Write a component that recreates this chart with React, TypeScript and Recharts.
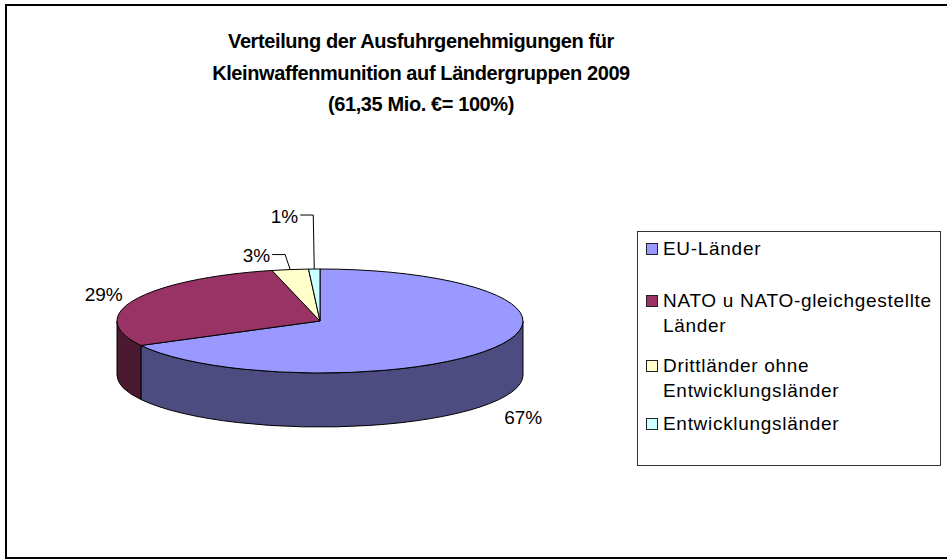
import React from "react";
import { Cell, Legend, Pie, PieChart } from "recharts";

// data (percent of 61,35 Mio. €)
const categories = [
  "EU-Länder",
  "NATO u NATO-gleichgestellte Länder",
  "Drittländer ohne Entwicklungsländer",
  "Entwicklungsländer",
];
const shares = [67.2, 29.0, 2.9, 0.9];
const titleLines = [
  "Verteilung der Ausfuhrgenehmigungen für",
  "Kleinwaffenmunition auf Ländergruppen 2009",
  "(61,35 Mio. €= 100%)",
];

const topColors = ["#9999FF", "#993366", "#FFFFCC", "#CCFFFF"];
const sideColors = ["#4C4C80", "#4C1933", "#808066", "#668080"];

const data = categories.map((name, i) => ({ name, value: shares[i] }));
const total = shares.reduce((a, b) => a + b, 0);

const W = 947;
const H = 559;
const CX = 320;
const CY = 321;
const RX = 203;
const RY = 52;
const DEPTH = 54;
const RAD = Math.PI / 180;
const FONT = '"Liberation Sans", Arial, Helvetica, sans-serif';
const legendGaps = [4, 27, 15, 8];
// leader lines of the thin slices: how far up, how far sideways
const smallLift = [15, 54];
const smallShift = [-5, -1];

function SliceLabel(props: any) {
  const { cx, cy, outerRadius, startAngle, endAngle, midAngle, percent, index } = props;
  const rx = outerRadius;
  const ry = (outerRadius * RY) / RX;
  const pt = (a: number, dy = 0) => ({
    x: cx + rx * Math.cos(a * RAD),
    y: cy - ry * Math.sin(a * RAD) + dy,
  });

  const hi = Math.max(startAngle, endAngle);
  const lo = Math.min(startAngle, endAngle);

  // visible front wall = part of the arc in the lower half of the ellipse
  const walls: string[] = [];
  for (let k = -2; k <= 1; k++) {
    const a1 = Math.max(lo, -180 + 360 * k);
    const a2 = Math.min(hi, 360 * k);
    if (a2 > a1) {
      const p2 = pt(a2);
      const p1 = pt(a1);
      const q1 = pt(a1, DEPTH);
      const q2 = pt(a2, DEPTH);
      walls.push(
        `M${p2.x},${p2.y} A${rx},${ry} 0 0 1 ${p1.x},${p1.y} L${q1.x},${q1.y} A${rx},${ry} 0 0 0 ${q2.x},${q2.y} Z`
      );
    }
  }

  const s = pt(startAngle);
  const e = pt(endAngle);
  const large = hi - lo > 180 ? 1 : 0;
  const sweep = startAngle > endAngle ? 1 : 0;
  const top = `M${cx},${cy} L${s.x},${s.y} A${rx},${ry} 0 ${large} ${sweep} ${e.x},${e.y} Z`;

  const text = `${Math.round(percent * 100)}%`;
  const textStyle = { fontFamily: FONT, fontSize: 19, fill: "#000" };
  let label;
  if (percent < 0.05) {
    const rank = shares.slice(0, index).filter((v) => v / total < 0.05).length;
    const a = pt(midAngle);
    const ex = a.x + smallShift[rank];
    const ey = a.y - smallLift[rank];
    label = (
      <g>
        <polyline points={`${a.x},${a.y} ${ex},${ey} ${ex - 13},${ey}`} fill="none" stroke="#000" strokeWidth={1} />
        <text x={ex - 15} y={ey + 1} textAnchor="end" dominantBaseline="central" style={textStyle}>
          {text}
        </text>
      </g>
    );
  } else {
    const sin = Math.sin(midAngle * RAD);
    const lx = cx + (rx + 34) * Math.cos(midAngle * RAD);
    const ly = cy - (ry + 12) * sin + (sin < 0 ? DEPTH + 10 : 0);
    label = (
      <text x={lx} y={ly} textAnchor="middle" dominantBaseline="central" style={textStyle}>
        {text}
      </text>
    );
  }

  return (
    <g>
      {walls.map((d, i) => (
        <path key={i} d={d} fill={sideColors[index]} stroke="#000" strokeWidth={1} />
      ))}
      <path d={top} fill={topColors[index]} stroke="#000" strokeWidth={1} />
      {label}
    </g>
  );
}

function LegendBox(props: any) {
  const payload = [...(props.payload || [])].sort(
    (a: any, b: any) => categories.indexOf(a.value) - categories.indexOf(b.value)
  );
  return (
    <div
      style={{
        width: 304,
        height: 235,
        boxSizing: "border-box",
        border: "1px solid #333",
        background: "#fff",
        fontFamily: FONT,
        fontSize: 19,
        letterSpacing: 0.7,
        lineHeight: "25px",
        padding: "0 1px 0 8px",
        color: "#000",
      }}
    >
      {payload.map((entry: any, i: number) => {
        const idx = categories.indexOf(entry.value);
        return (
          <div key={i} style={{ display: "flex", alignItems: "flex-start", marginTop: legendGaps[i] }}>
            <span
              style={{
                width: 10,
                height: 10,
                flex: "none",
                border: "1px solid #222",
                background: topColors[idx] || entry.color,
                marginTop: 7,
                marginRight: 5,
              }}
            />
            <span>{entry.value}</span>
          </div>
        );
      })}
    </div>
  );
}

export default function App() {
  return (
    <div style={{ position: "absolute", left: 0, top: 0, width: W, height: H, background: "#fff", overflow: "hidden" }}>
      <div
        style={{
          position: "absolute",
          left: 5,
          top: 4,
          width: 960,
          height: 555,
          boxSizing: "border-box",
          border: "2px solid #000",
        }}
      />
      <div
        style={{
          position: "absolute",
          left: 121,
          top: 26,
          width: 600,
          textAlign: "center",
          fontFamily: FONT,
          fontWeight: "bold",
          fontSize: 20,
          letterSpacing: -0.4,
          lineHeight: "31.5px",
          color: "#000",
        }}
      >
        {titleLines.map((t, i) => (
          <div key={i}>{t}</div>
        ))}
      </div>
      <div style={{ position: "absolute", left: 0, top: 0 }}>
        <PieChart width={W} height={H} margin={{ top: 0, right: 0, bottom: 0, left: 0 }}>
          <Pie
            data={data}
            dataKey="value"
            nameKey="name"
            cx={CX}
            cy={CY}
            outerRadius={RX}
            startAngle={90}
            endAngle={-270}
            stroke="none"
            label={SliceLabel}
            labelLine={false}
            isAnimationActive={false}
          >
            {data.map((d, i) => (
              <Cell key={d.name} fill={topColors[i]} fillOpacity={0} />
            ))}
          </Pie>
          <Legend
            layout="vertical"
            align="right"
            verticalAlign="middle"
            content={LegendBox}
            wrapperStyle={{ left: 637, top: 231, width: 304, height: 235 }}
          />
        </PieChart>
      </div>
    </div>
  );
}
